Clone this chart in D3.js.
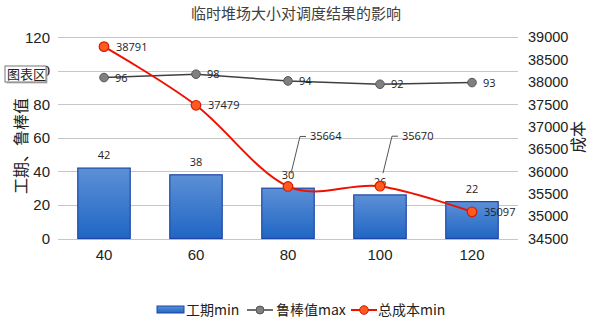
<!DOCTYPE html>
<meta charset="utf-8">
<script src="https://d3js.org/d3.v7.min.js"></script>
<style>
	body{
		margin:0;
		background:#fff;
		font-family:'Liberation Sans', 'Noto Sans CJK SC', sans-serif;
	}
	svg{display:block;}
</style>
<div id="chart"></div>
<script>

// data
var categories = ["40","60","80","100","120"]
var durationMin = [42,38,30,26,22]
var robustMax = [96,98,94,92,93]
var costMin = [38791,37479,35664,35670,35097]
var leftTicks = [0,20,40,60,80,100,120]
var rightTicks = [34500,35000,35500,36000,36500,37000,37500,38000,38500,39000]
var seriesNames = ["工期min","鲁棒值max","总成本min"]
var liftedLabels = [2,3] // cost labels pulled up with a leader line

var w = 592
var h = 320
var cjk = "'Noto Sans CJK SC', sans-serif"
var labelFont = "'Open Sans', sans-serif"

var svg = d3.select("#chart").append("svg").attr("width",w).attr("height",h)

var defs = svg.append("defs")
var grad = defs.append("linearGradient").attr("id","barGrad")
	.attr("x1",0).attr("y1",0).attr("x2",0).attr("y2",1)
grad.append("stop").attr("offset","0%").attr("stop-color","#5c90d6")
grad.append("stop").attr("offset","100%").attr("stop-color","#2066c4")

var x = d3.scaleBand().domain(categories).range([58,518]).paddingInner(0.43).paddingOuter(0.215)
var yL = d3.scaleLinear().domain([0,120]).range([238.5,37.3])
var yR = d3.scaleLinear().domain([34500,39000]).range([238.5,37.3])
function cx(d){ return x(d)+x.bandwidth()/2 }

// title
svg.append("text").text("临时堆场大小对调度结果的影响")
	.attr("x",296).attr("y",19).attr("text-anchor","middle")
	.style("font-family",cjk).style("font-size","15px").attr("fill","#404040")

// gridlines
svg.append("g").selectAll("line").data(leftTicks).join("line")
	.attr("x1",58).attr("x2",518)
	.attr("y1",function(d){return Math.round(yL(d))+0.5})
	.attr("y2",function(d){return Math.round(yL(d))+0.5})
	.attr("stroke","#c6c6c6").attr("stroke-width",1.2)

// left axis
var axL = svg.append("g").attr("transform","translate(58,0)")
	.call(d3.axisLeft(yL).tickValues(leftTicks).tickSize(0).tickPadding(8))
axL.select(".domain").remove()
axL.selectAll("text").style("font-size","15px").attr("fill","#222")
	.style("font-family","'Liberation Sans', sans-serif")

// right axis
var axR = svg.append("g").attr("transform","translate(518,0)")
	.call(d3.axisRight(yR).tickValues(rightTicks).tickFormat(d3.format("d")).tickSize(0).tickPadding(10))
axR.select(".domain").remove()
axR.selectAll("text").style("font-size","14.5px").attr("fill","#222")
	.style("font-family","'Liberation Sans', sans-serif")

// x axis labels
var axB = svg.append("g").attr("transform","translate(0,238.5)")
	.call(d3.axisBottom(x).tickSize(0).tickPadding(11))
axB.select(".domain").remove()
axB.selectAll("text").style("font-size","15px").attr("fill","#222")
	.style("font-family","'Liberation Sans', sans-serif")

// axis titles
svg.append("text").text("工期、鲁棒值")
	.attr("transform","translate(27,146) rotate(-90)").attr("text-anchor","middle")
	.style("font-family",cjk).style("font-size","16px").attr("fill","#222")
svg.append("text").text("成本")
	.attr("transform","translate(584,137) rotate(-90)").attr("text-anchor","middle")
	.style("font-family",cjk).style("font-size","16px").attr("fill","#222")

// bars
svg.append("g").selectAll("rect").data(durationMin).join("rect")
	.attr("x",function(d,i){return x(categories[i])})
	.attr("y",function(d){return yL(d)})
	.attr("width",x.bandwidth())
	.attr("height",function(d){return yL(0)-yL(d)})
	.attr("fill","url(#barGrad)")
	.attr("stroke","#1d47a8").attr("stroke-width",1.2)

svg.append("g").selectAll("text").data(durationMin).join("text")
	.text(function(d){return d})
	.attr("x",function(d,i){return cx(categories[i])})
	.attr("y",function(d){return yL(d)-9})
	.attr("text-anchor","middle")
	.style("font-family",labelFont).style("font-size","11px").attr("fill","#222")

// robust line
var robustLine = d3.line().x(function(d,i){return cx(categories[i])}).y(function(d){return yL(d)})
svg.append("path").datum(robustMax).attr("d",robustLine)
	.attr("fill","none").attr("stroke","#404040").attr("stroke-width",1.5)
svg.append("g").selectAll("circle").data(robustMax).join("circle")
	.attr("cx",function(d,i){return cx(categories[i])})
	.attr("cy",function(d){return yL(d)})
	.attr("r",4.3).attr("fill","#808080").attr("stroke","#555").attr("stroke-width",1)
svg.append("g").selectAll("text").data(robustMax).join("text")
	.text(function(d){return d})
	.attr("x",function(d,i){return cx(categories[i])+11})
	.attr("y",function(d){return yL(d)+4})
	.style("font-family",labelFont).style("font-size","11px").attr("fill","#222")

// cost line
var costLine = d3.line().curve(d3.curveCardinal.tension(0))
	.x(function(d,i){return cx(categories[i])}).y(function(d){return yR(d)})
svg.append("path").datum(costMin).attr("d",costLine)
	.attr("fill","none").attr("stroke","#ee1100").attr("stroke-width",2)

// leader lines
svg.append("g").selectAll("polyline").data(liftedLabels).join("polyline")
	.attr("points",function(i){
		var px = cx(categories[i]), py = yR(costMin[i])
		return [[px+18,py-50],[px+12,py-50],[px+3,py-13]].join(" ")
	})
	.attr("fill","none").attr("stroke","#555").attr("stroke-width",1)

svg.append("g").selectAll("circle").data(costMin).join("circle")
	.attr("cx",function(d,i){return cx(categories[i])})
	.attr("cy",function(d){return yR(d)})
	.attr("r",4.8).attr("fill","#ff5a1f").attr("stroke","#d81b00").attr("stroke-width",1.2)

svg.append("g").selectAll("text").data(costMin).join("text")
	.text(function(d){return d})
	.attr("x",function(d,i){return cx(categories[i])+(liftedLabels.indexOf(i)>=0?22:12)})
	.attr("y",function(d,i){return liftedLabels.indexOf(i)>=0?yR(d)-46:yR(d)+4})
	.style("font-family",labelFont).style("font-size","11px").attr("fill","#222")

// legend
var lg = svg.append("g")
lg.append("rect").attr("x",157).attr("y",306).attr("width",27).attr("height",7)
	.attr("fill","url(#barGrad)").attr("stroke","#1d47a8").attr("stroke-width",1)
lg.append("line").attr("x1",247).attr("x2",273).attr("y1",310).attr("y2",310)
	.attr("stroke","#404040").attr("stroke-width",1.5)
lg.append("circle").attr("cx",260).attr("cy",310).attr("r",4)
	.attr("fill","#808080").attr("stroke","#555")
lg.append("line").attr("x1",351).attr("x2",377).attr("y1",310).attr("y2",310)
	.attr("stroke","#ee1100").attr("stroke-width",2)
lg.append("circle").attr("cx",364).attr("cy",310).attr("r",4.3)
	.attr("fill","#ff5a1f").attr("stroke","#d81b00")
lg.selectAll("text").data(seriesNames).join("text")
	.text(function(d){return d})
	.attr("x",function(d,i){return [186,276,378][i]})
	.attr("y",315)
	.style("font-family",cjk).style("font-size","14px").attr("fill","#222")

// the "图表区" tooltip sitting over the 100 tick
var tip = svg.append("g").attr("transform","translate(5,66)")
tip.append("rect").attr("x",1.5).attr("y",1.5).attr("width",41).attr("height",16).attr("fill","#bbb")
tip.append("rect").attr("width",41).attr("height",16).attr("fill","#fff").attr("stroke","#777")
tip.append("text").text("图表区").attr("x",2).attr("y",13)
	.style("font-family",cjk).style("font-size","13px").attr("fill","#222")

</script>
